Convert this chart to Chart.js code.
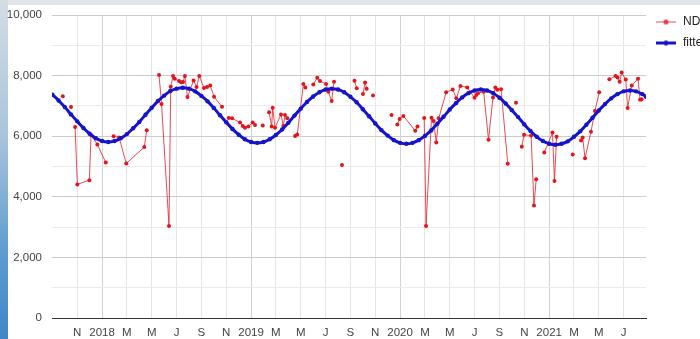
<!DOCTYPE html>
<html>
<head>
<meta charset="utf-8">
<script src="https://cdn.jsdelivr.net/npm/chart.js@4.4.0/dist/chart.umd.min.js"></script>
<style>
  html, body { margin: 0; padding: 0; width: 700px; height: 339px; overflow: hidden; background: #e1e5e9; }
  #side { position: absolute; left: 0; top: 0; width: 8px; height: 339px;
          background: linear-gradient(180deg, #d3dde6 0%, #a9c4dc 40%, #5d9bd0 75%, #3f87c7 100%); }
  #panel { position: absolute; left: 8px; top: 5px; right: 0; bottom: 0; background: #fff; }
  #wrap { position: absolute; left: 0; top: 0; width: 700px; height: 339px; }
</style>
</head>
<body>
<div id="side"></div>
<div id="panel"></div>
<div id="wrap"><canvas id="ndviChart"></canvas></div>
<script>
// x = months since Jan 2018 (Sep 2017 .. Aug 2021)
const tickMonths = [-2, 0, 2, 4, 6, 8, 10, 12, 14, 16, 18, 20, 22, 24, 26, 28, 30, 32, 34, 36, 38, 40, 42];
const tickLabels = ["N", "2018", "M", "M", "J", "S", "N", "2019", "M", "M", "J", "S", "N",
  "2020", "M", "M", "J", "S", "N", "2021", "M", "M", "J"];

// NDVI observations, null = break in the line
const ndviMonth = [
  -3.16, null, -2.50, null,
  -2.17, -1.99, -1.02, -0.89, -0.38, 0.30, null,
  0.93, 1.37, 1.95, 3.40, 3.60, null,
  4.59, 4.79, 5.39, 5.53, 5.72, 5.85, 6.20, 6.38, 6.52, 6.67, 6.88, 7.37, 7.61, 7.83,
  8.21, 8.45, 8.71, 9.02, 9.66, null,
  10.20, 10.47, 11.11, 11.33, 11.51, 11.78, 12.13, 12.32, null,
  12.94, null,
  13.45, 13.66, 13.74, 13.93, 14.41, 14.60, 14.73, 14.92, null,
  15.54, 15.72, 16.21, 16.37, null,
  17.01, 17.33, 17.55, 18.04, 18.22, 18.49, 18.68, null,
  19.32, null,
  20.33, 20.51, null,
  21.01, 21.18, 21.31, null,
  21.82, null,
  23.31, null,
  23.78, 23.96, 24.26, 25.22, 25.40, null,
  25.94, 26.09, 26.53, 26.70, 26.91, 27.11, 27.71, 28.24, 28.53, 28.86, 29.40, 29.99,
  30.13, 30.27, 30.73, 31.12, 31.48, 31.67, 31.83, 32.13, 32.67, null,
  33.33, null,
  33.80, 33.98, 34.55, 34.78, 34.96, null,
  35.61, 36.27, 36.43, 36.60, null,
  37.90, null,
  38.57, 38.70, 38.89, 39.37, 39.69, 40.03, null,
  40.85, 41.35, 41.51, 41.68, 41.84, 42.17, 42.32, 42.65, 43.16, 43.32, 43.45
];
const ndviValue = [
  7320, null, 6960, null,
  6300, 4410, 4550, 6040, 5730, 5130, null,
  6000, 5960, 5100, 5640, 6200, null,
  8020, 7060, 3040, 7630, 7990, 7900, 7820, 7780, 7790, 7990, 7290, 7840, 7620, 7990,
  7590, 7620, 7670, 7300, 6970, null,
  6600, 6590, 6450, 6340, 6280, 6320, 6450, 6370, null,
  6350, null,
  6790, 6320, 6940, 6280, 6720, 6340, 6700, 6590, null,
  6010, 6060, 7720, 7610, null,
  7710, 7930, 7820, 7720, 7470, 7160, 7800, null,
  5050, null,
  7830, 7580, null,
  7390, 7770, 7570, null,
  7340, null,
  6700, null,
  6390, 6570, 6670, 6180, 6320, null,
  6600, 3040, 6610, 6500, 5790, 6590, 7450, 7540, 7250, 7660, 7610, 7270,
  7360, 7420, 7470, 5880, 7280, 7610, 7530, 7550, 5090, null,
  7100, null,
  5650, 6050, 6020, 3710, 4580, null,
  5460, 6120, 4520, 5980, null,
  5400, null,
  5860, 5960, 5270, 6150, 6830, 7450, null,
  7880, 7990, 7940, 7800, 8100, 7870, 6930, 7670, 7900, 7200, 7220
];

// fitted seasonal curve
const fittedMonth = [
  -4, -3.5, -3, -2.5, -2, -1.5, -1, -0.5,
  0, 0.5, 1, 1.5, 2, 2.5, 3, 3.5, 4, 4.5, 5, 5.5, 6, 6.5, 7, 7.5, 8, 8.5, 9, 9.5, 10, 10.5, 11, 11.5,
  12, 12.5, 13, 13.5, 14, 14.5, 15, 15.5, 16, 16.5, 17, 17.5, 18, 18.5, 19, 19.5, 20, 20.5, 21, 21.5, 22, 22.5, 23, 23.5,
  24, 24.5, 25, 25.5, 26, 26.5, 27, 27.5, 28, 28.5, 29, 29.5, 30, 30.5, 31, 31.5, 32, 32.5, 33, 33.5, 34, 34.5, 35, 35.5,
  36, 36.5, 37, 37.5, 38, 38.5, 39, 39.5, 40, 40.5, 41, 41.5, 42, 42.5, 43, 43.5, 43.8
];
const fittedValue = [
  7370, 7180, 6960, 6720, 6490, 6270, 6080, 5930,
  5840, 5810, 5840, 5930, 6070, 6260, 6470, 6710, 6940, 7160, 7340, 7490, 7570, 7600, 7570, 7480, 7330, 7150, 6930, 6690, 6460, 6240, 6050, 5900,
  5810, 5780, 5810, 5900, 6040, 6220, 6440, 6680, 6910, 7130, 7310, 7450, 7540, 7570, 7540, 7450, 7300, 7120, 6890, 6660, 6420, 6200, 6020, 5870,
  5780, 5750, 5780, 5870, 6010, 6190, 6410, 6640, 6880, 7090, 7280, 7420, 7510, 7540, 7510, 7420, 7270, 7080, 6860, 6630, 6390, 6170, 5980, 5840,
  5750, 5720, 5750, 5830, 5980, 6160, 6380, 6610, 6850, 7060, 7250, 7390, 7480, 7510, 7480, 7390, 7300
];

function toPoints(xs, ys) {
  return xs.map((x, i) => ({ x: x, y: ys[i] }));
}

function legendIcon(color, lineWidth) {
  const c = document.createElement("canvas");
  c.width = 20;
  c.height = 7;
  const g = c.getContext("2d");
  g.strokeStyle = color;
  g.lineWidth = lineWidth;
  g.beginPath();
  g.moveTo(0, 3.5);
  g.lineTo(20, 3.5);
  g.stroke();
  g.fillStyle = color;
  g.beginPath();
  g.arc(10, 3.5, 2.5, 0, Math.PI * 2);
  g.fill();
  return c;
}

Chart.defaults.font.family = "'Liberation Sans', Arial, sans-serif";
Chart.defaults.font.size = 11.5;
Chart.defaults.color = "#444";

new Chart(document.getElementById("ndviChart"), {
  type: "line",
  data: {
    datasets: [
      {
        label: "NDVI",
        data: toPoints(ndviMonth, ndviValue),
        borderColor: "rgba(225, 30, 40, 0.8)",
        borderWidth: 1,
        pointRadius: 2,
        pointBorderWidth: 0,
        pointBackgroundColor: "#e3151c",
        tension: 0,
        order: 1,
      },
      {
        label: "fitted",
        data: toPoints(fittedMonth, fittedValue),
        borderColor: "#1414cc",
        borderWidth: 3,
        pointRadius: 2.2,
        pointBorderWidth: 0,
        pointBackgroundColor: "#1414cc",
        tension: 0.3,
        order: 0,
      },
    ],
  },
  options: {
    animation: false,
    responsive: true,
    maintainAspectRatio: false,
    layout: { padding: { top: 7, left: 0, right: 0, bottom: 0 } },
    plugins: {
      tooltip: { enabled: false },
      legend: {
        position: "right",
        align: "start",
        maxWidth: 54,
        labels: {
          usePointStyle: true,
          pointStyleWidth: 22,
          padding: 9,
          color: "#222",
          font: { size: 12 },
          generateLabels(chart) {
            return chart.data.datasets.map((ds, i) => ({
              text: ds.label,
              pointStyle: legendIcon(ds.borderColor, ds.borderWidth),
              fillStyle: ds.borderColor,
              strokeStyle: ds.borderColor,
              lineWidth: 0,
              fontColor: "#222",
              hidden: false,
              datasetIndex: i,
            }));
          },
        },
      },
    },
    scales: {
      x: {
        type: "linear",
        min: -4.03,
        max: 43.8,
        afterBuildTicks(scale) {
          scale.ticks = tickMonths.map((v) => ({ value: v }));
        },
        afterFit(scale) {
          scale.height = 21;
          scale.paddingLeft = 0;
          scale.paddingRight = 0;
        },
        ticks: {
          autoSkip: false,
          maxRotation: 0,
          padding: 8,
          color: "#444",
          callback: (value) => tickLabels[tickMonths.indexOf(value)],
        },
        grid: {
          drawTicks: false,
          color: (ctx) => (ctx.tick && ctx.tick.value % 12 === 0 ? "#d2d2d2" : "#e6e6e6"),
        },
        border: { color: "#333", width: 1 },
      },
      y: {
        min: 0,
        max: 10000,
        afterFit(scale) {
          scale.width = 52;
          scale.paddingTop = 15;
        },
        ticks: {
          stepSize: 1000,
          padding: 10,
          color: "#444",
          callback: (value) => (value % 2000 === 0 ? value.toLocaleString("en-US") : ""),
        },
        grid: {
          drawTicks: false,
          color: (ctx) => (ctx.tick.value % 2000 === 0 ? "#cccccc" : "#ebebeb"),
        },
        border: { display: false },
      },
    },
  },
});
</script>
</body>
</html>
